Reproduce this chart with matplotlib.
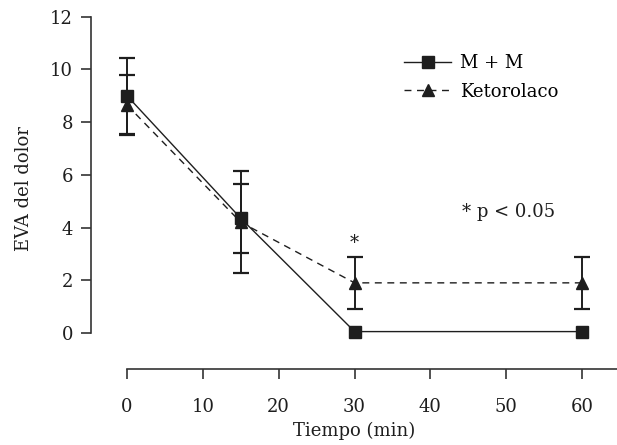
import numpy as np
import matplotlib.pyplot as plt
from matplotlib.lines import Line2D

plt.rcParams['font.family'] = ['DejaVu Serif']

# data
tiempo = [0, 15, 30, 60]
mm_media = [9.0, 4.35, 0.05, 0.05]
mm_error = [1.45, 1.3, 0.0, 0.0]
keto_media = [8.65, 4.2, 1.9, 1.9]
keto_error = [1.15, 1.93, 1.0, 1.0]
xticks = [0, 10, 20, 30, 40, 50, 60]
yticks = [0, 2, 4, 6, 8, 10, 12]

col = '#1e1e1e'
dash = (0, (5, 4))

fig = plt.figure(figsize=(6.17, 4.45), dpi=100)
ax = fig.add_axes([0.1475, 0.1708, 0.8525, 0.8092])

# lines + markers
ax.plot(tiempo, keto_media, color=col, linestyle=dash, linewidth=1,
        marker='^', markersize=9)
ax.plot(tiempo, mm_media, color=col, linestyle='-', linewidth=1,
        marker='s', markersize=9)

# error bars (only where there is an error)
t = np.array(tiempo)
for media, err in [(keto_media, keto_error), (mm_media, mm_error)]:
    media = np.array(media)
    err = np.array(err)
    m = err > 0
    ax.errorbar(t[m], media[m], yerr=err[m], fmt='none', ecolor=col,
                capsize=6, capthick=1.6, elinewidth=1.4)

# significance markers
ax.text(30, 3.4, '*', ha='center', va='center', fontsize=13, color=col)
ax.text(44.2, 4.6, '* p < 0.05', ha='left', va='center', fontsize=13, color=col)

ax.set_xlim(-4.75, 64.6)
ax.set_ylim(-1.37, 12.3)
ax.set_xticks(xticks)
ax.set_yticks(yticks)
ax.spines['top'].set_visible(False)
ax.spines['right'].set_visible(False)
ax.spines['left'].set_bounds(0, 12)
ax.spines['bottom'].set_bounds(0, 64.6)
for s in ['left', 'bottom']:
    ax.spines[s].set_color('#333333')
    ax.spines[s].set_linewidth(1.2)
ax.tick_params(length=7, width=1.2, color='#333333', labelsize=13, labelcolor=col)
ax.tick_params(axis='x', pad=14)
ax.tick_params(axis='y', pad=6)

ax.set_xlabel('Tiempo (min)', fontsize=13, color=col, labelpad=4)
ax.set_ylabel('EVA del dolor', fontsize=13, color=col, labelpad=12)

handles = [Line2D([], [], color=col, linestyle='-', linewidth=1, marker='s', markersize=9),
           Line2D([], [], color=col, linestyle=dash, linewidth=1, marker='^', markersize=9)]
ax.legend(handles, ['M + M', 'Ketorolaco'], loc='upper left', bbox_to_anchor=(0.565, 0.92),
          frameon=False, fontsize=13, handlelength=2.6, labelspacing=0.6,
          handletextpad=0.5)

fig.savefig('out.png', dpi=100)
